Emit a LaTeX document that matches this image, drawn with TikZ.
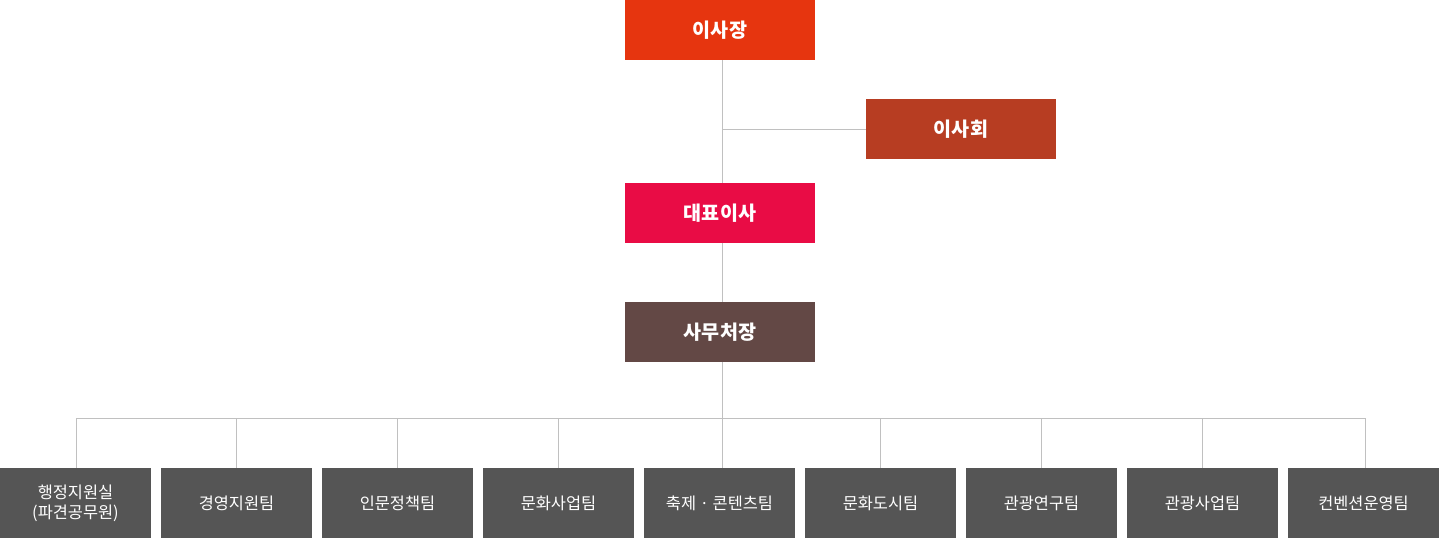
\documentclass[tikz,border=0pt]{standalone}
\usepackage{fontspec}
\newfontfamily\kr{Noto Sans CJK KR}
\usetikzlibrary{positioning}

\definecolor{chaircol}{HTML}{E6350F}
\definecolor{boardcol}{HTML}{B73D22}
\definecolor{ceocol}{HTML}{E90C45}
\definecolor{seccol}{HTML}{634845}
\definecolor{teamcol}{HTML}{555555}
\definecolor{linecol}{HTML}{C0C0C0}

\tikzset{
    headbox/.style={fill=#1, text=white, minimum width=95pt, minimum height=30pt,
        inner sep=0pt, outer sep=0pt, font=\kr\bfseries\fontsize{9.8}{12}\selectfont},
    teambox/.style={fill=teamcol, text=white, minimum width=75.5pt, minimum height=35pt,
        inner sep=0pt, outer sep=0pt, align=center, font=\kr\fontsize{8.2}{10}\selectfont},
    orgline/.style={draw=linecol, line width=.5pt}
}

\begin{document}
\begin{tikzpicture}[x=.5pt, y=-.5pt]

    \useasboundingbox (0,0) rectangle (1440,538);

    \node[headbox=chaircol] (chair) at (720,30) {이사장};
    \node[headbox=boardcol] (board) at (961,129) {이사회};
    \node[headbox=ceocol] (ceo) at (720,213) {대표이사};
    \node[headbox=seccol] (sec) at (720,332) {사무처장};

    % teams
    \foreach \name [count=\i] in {{행정지원실\\(파견공무원)}, 경영지원팀, 인문정책팀, 문화사업팀,
        축제 · 콘텐츠팀, 문화도시팀, 관광연구팀, 관광사업팀, 컨벤션운영팀}
        \node[teambox] (t\i) at ({75.5+161*(\i-1)},503) {\name};

    % spine sits a little right of the box centres
    \coordinate (spine) at ([xshift=1pt]chair.south);
    \draw[orgline] (spine) -- (spine |- ceo.north);
    \draw[orgline] (spine |- ceo.south) -- (spine |- sec.north);
    \draw[orgline] (spine |- board.west) -- (board.west);

    \draw[orgline] ([xshift=.25pt]t1.north) -- ++(0,-50) coordinate (busl) -| ([xshift=.75pt]t9.north);
    \draw[orgline] (spine |- sec.south) -- (spine |- t5.north);
    \foreach \i in {2,3,4,6,7,8}
        \draw[orgline] (t\i.north) -- ++(0,-50);

\end{tikzpicture}
\end{document}
